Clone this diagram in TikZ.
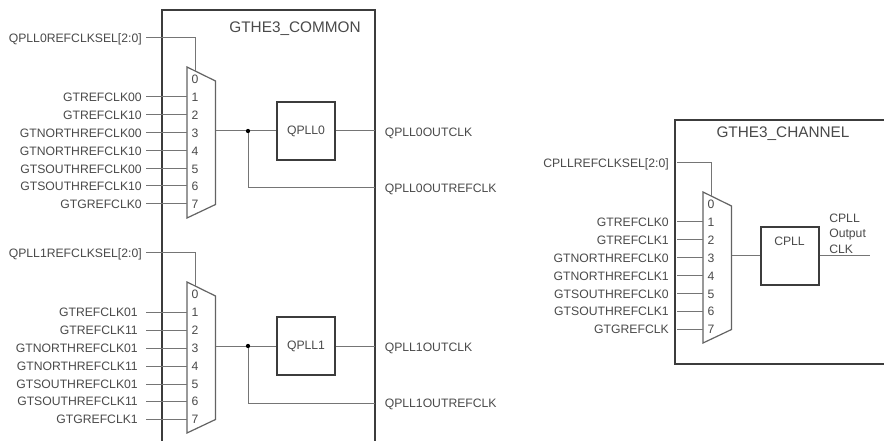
\documentclass[tikz,border=0pt]{standalone}
\usepackage{fontspec}
\setmainfont{Liberation Sans}
\definecolor{ink}{HTML}{4A4A4A}
\definecolor{wire}{HTML}{757575}
\definecolor{frame}{HTML}{3C3C3C}
\newcommand{\muxblock}[6]{% prefix, y offset of mux, x offset, gap from label to wire, wire start, labels
  \begin{scope}[shift={(#3,#2)}]
    \coordinate (#1tl) at (187,67);
    \coordinate (#1tr) at (215.5,81);
    \coordinate (#1br) at (215.5,204.5);
    \coordinate (#1bl) at (187,218);
    \coordinate (#1out) at (215.5,131);
    \coordinate (#1selin) at (195,71);
    \coordinate (#1corner) at (195,38);
    \draw[muxline] (#1tl) -- (#1tr) -- (#1br) -- (#1bl) -- cycle;
    \node[muxnum] (#1n0) at (195,79) {0};
    \foreach \lab [count=\i] in {#6} {
      \pgfmathsetmacro{\yy}{79+18*\i-(\i>5?1:0)}
      \coordinate (#1pin\i) at (187,\yy);
      \node[muxnum] (#1n\i) at (195,\yy) {\i};
      \node[sig,inner xsep=#4*0.75pt] (#1lab\i) at (#5,\yy) {\lab};
      \draw[wire] (#1lab\i.east) -- (#1pin\i);
    }
  \end{scope}
}
\tikzset{
  x=0.75pt,y=-0.75pt,
  wire/.style={draw=wire,line width=0.75pt},
  muxline/.style={draw=wire!85!black,line width=0.9pt},
  boxline/.style={draw=frame,line width=1.5pt},
  sig/.style={anchor=east,inner ysep=0pt,text=ink,font=\fontsize{9.15pt}{11pt}\selectfont,text height=6.6pt,text depth=0pt},
  sigr/.style={sig,anchor=west,inner xsep=7.5pt},
  muxnum/.style={inner sep=0pt,text=ink,font=\fontsize{9.15pt}{11pt}\selectfont},
  title/.style={inner sep=0pt,text=ink,font=\fontsize{11.5pt}{13pt}\selectfont},
  plainlabel/.style={anchor=west,inner sep=0pt,text=ink,font=\fontsize{9.15pt}{11pt}\selectfont,text height=6.6pt,text depth=0pt},
  pll/.style={boxline,rectangle,minimum width=43.5pt,minimum height=43.5pt,inner sep=0pt,text=ink,font=\fontsize{9.15pt}{11pt}\selectfont},
  joint/.style={circle,fill=black,inner sep=0pt,minimum size=3.2pt},
}
\begin{document}
\begin{tikzpicture}
\useasboundingbox (0,0) rectangle (884,441);
\fill[white] (0,0) rectangle (884,441);
% frames
\draw[boxline] (161.5,441) -- (161.5,10) -- (374.5,10) -- (374.5,441);
\draw[boxline] (884,120) -- (675,120) -- (675,364) -- (884,364);
\node[title] (tcommon) at (295,28.5) {GTHE3\_COMMON};
\node[title] (tchannel) at (783,134) {GTHE3\_CHANNEL};
% upper mux
\muxblock{a}{0}{0}{4}{146}{GTREFCLK00,GTREFCLK10,GTNORTHREFCLK00,GTNORTHREFCLK10,GTSOUTHREFCLK00,GTSOUTHREFCLK10,GTGREFCLK0}
\node[sig,inner xsep=3pt] (asel) at (146,38) {QPLL0REFCLKSEL[2:0]};
\draw[wire] (asel.east) -- (acorner) -- (aselin);
\node[pll] (qpll0) at (306,131) {QPLL0};
\node[joint] (ja) at (248,131) {};
\node[sigr] (qo0) at (374.5,132) {QPLL0OUTCLK};
\node[sigr] (qr0) at (374.5,188) {QPLL0OUTREFCLK};
\draw[wire] (aout) -- (ja) -- (qpll0);
\draw[wire] (qpll0.east) -- (qpll0.east -| qo0.west);
\draw[wire] (ja) |- (qr0.west);
% lower mux
\muxblock{b}{215}{0}{8}{146}{GTREFCLK01,GTREFCLK11,GTNORTHREFCLK01,GTNORTHREFCLK11,GTSOUTHREFCLK01,GTSOUTHREFCLK11,GTGREFCLK1}
\node[sig,inner xsep=3pt] (bsel) at (146,253) {QPLL1REFCLKSEL[2:0]};
\draw[wire] (bsel.east) -- (bcorner) -- (bselin);
\node[pll] (qpll1) at (306,346) {QPLL1};
\node[joint] (jb) at (248,346) {};
\node[sigr] (qo1) at (374.5,347) {QPLL1OUTCLK};
\node[sigr] (qr1) at (374.5,403) {QPLL1OUTREFCLK};
\draw[wire] (bout) -- (jb) -- (qpll1);
\draw[wire] (qpll1.east) -- (qpll1.east -| qo1.west);
\draw[wire] (jb) |- (qr1.west);
% channel mux
\muxblock{c}{125}{516}{8}{161}{GTREFCLK0,GTREFCLK1,GTNORTHREFCLK0,GTNORTHREFCLK1,GTSOUTHREFCLK0,GTSOUTHREFCLK1,GTGREFCLK}
\node[sig,inner xsep=6pt] (csel) at (677,163) {CPLLREFCLKSEL[2:0]};
\draw[wire] (csel.east) -| (ccorner) -- (cselin);
\node[pll] (cpll) at (789.5,256) {};
\node[plainlabel,anchor=center] (cpllname) at (789.5,241) {CPLL};
\coordinate (cend) at (870,256);
\draw[wire] (cout) -- (cpll);
\draw[wire] (cpll) -- (cend);
\node[plainlabel] (l1) at (829,218) {CPLL};
\node[plainlabel] (l2) at (829,233.5) {Output};
\node[plainlabel] (l3) at (829,249) {CLK};
\end{tikzpicture}
\end{document}
